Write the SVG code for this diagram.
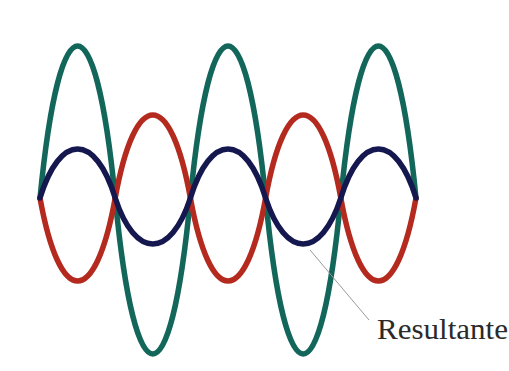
<svg xmlns="http://www.w3.org/2000/svg" width="509" height="371" viewBox="0 0 509 371">
  <style>
    .w{fill:none;stroke-width:5.5;stroke-linecap:round;stroke-linejoin:round}
    .g{stroke:#12675a}
    .r{stroke:#b42a1f}
    .n{stroke:#15174f}
    .lbl{font-family:"Liberation Serif","Times New Roman",serif;font-size:30px;fill:#2a2a2a}
  </style>
  <rect width="509" height="371" fill="#ffffff"/>
  <g id="onda-verde">
    <path class="w g" d="M40,198 c20,-202.7 55.2,-202.7 75.2,0 c20,208 55.2,208 75.2,0 c20,-202.7 55.2,-202.7 75.2,0 c20,208 55.2,208 75.2,0 c20,-202.7 55.2,-202.7 75.2,0"/>
  </g>
  <g id="onda-roja">
    <path class="w r" d="M40,198 c20,110.7 55.2,110.7 75.2,0 c20,-110.7 55.2,-110.7 75.2,0 c20,110.7 55.2,110.7 75.2,0 c20,-110.7 55.2,-110.7 75.2,0 c20,110.7 55.2,110.7 75.2,0"/>
  </g>
  <g id="resultante-onda">
    <path class="w n" d="M40,198 c20,-65.3 55.2,-65.3 75.2,0 c20,61.3 55.2,61.3 75.2,0 c20,-65.3 55.2,-65.3 75.2,0 c20,61.3 55.2,61.3 75.2,0 c20,-65.3 55.2,-65.3 75.2,0"/>
  </g>
  <g id="conectores">
    <line x1="310" y1="250" x2="369" y2="320" stroke="#9a9a9a" stroke-width="1"/>
  </g>
  <g id="etiqueta">
    <text class="lbl" x="377" y="339" textLength="131" lengthAdjust="spacingAndGlyphs">Resultante</text>
  </g>
</svg>
